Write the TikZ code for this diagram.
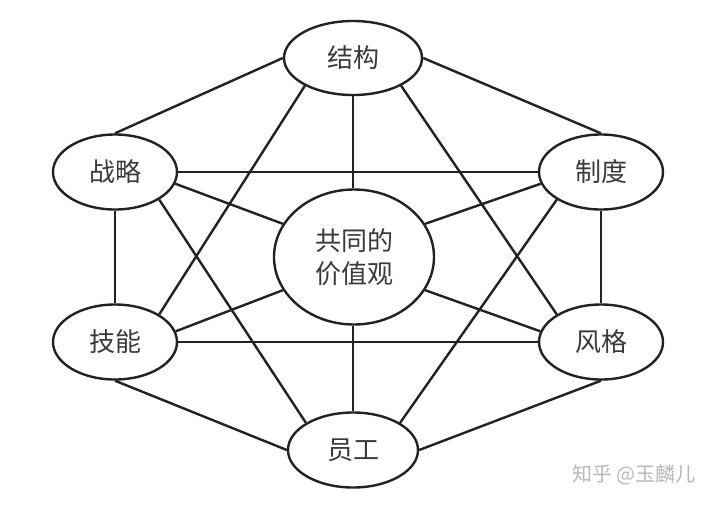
\documentclass[tikz,border=0pt]{standalone}
\usepackage{fontspec}
\newfontfamily\cjk{Noto Sans CJK SC}
\usetikzlibrary{shapes.geometric}
\definecolor{ink}{HTML}{222222}
\definecolor{txt}{HTML}{3A3A3A}
\definecolor{wm}{HTML}{B8B8B8}
\tikzset{
  elem/.style={ellipse, draw=ink, line width=2.4pt, fill=white, inner sep=0pt,
    minimum width=124pt, minimum height=75pt, text=txt,
    font=\cjk\fontsize{26}{33}\selectfont},
  link/.style={draw=ink, line width=2.4pt}
}
\begin{document}
\begin{tikzpicture}[x=1pt,y=-1pt]
\useasboundingbox (0,0) rectangle (720,507);
\fill[white] (0,0) rectangle (720,507);
% nodes
\node[elem, minimum width=138pt, minimum height=74pt] (jg) at (353,58) {结构};
\node[elem] (zl) at (115,172) {战略};
\node[elem] (zd) at (601,172) {制度};
\node[elem] (jn) at (115,342) {技能};
\node[elem] (fg) at (601,342) {风格};
\node[elem, minimum width=130pt] (yg) at (353,450) {员工};
\node[elem, minimum width=160pt, minimum height=135pt, align=center] (gt) at (354,257) {共同的\\价值观};
% hexagon edges
\path[link] (zl.north) -- (jg.west);
\path[link] (jg.east) -- (zd.north);
\path[link] (zd.south) -- (fg.north);
\path[link] (fg.south) -- (yg.east);
\path[link] (yg.west) -- (jn.south);
\path[link] (jn.north) -- (zl.south);
% skip-one diagonals
\path[link] (zl.east) -- (zd.west);
\path[link] (jn.east) -- (fg.west);
\path[link] (jg.210) -- (jn.32);
\path[link] (jg.330) -- (fg.148);
\path[link] (zl.-32) -- (yg.150);
\path[link] (zd.212) -- (yg.30);
% spokes to the centre
\path[link] (jg.south) -- (jg.south |- gt.north);
\path[link] (yg.north) -- (yg.north |- gt.south);
\path[link] (zl.-11) -- (gt.155);
\path[link] (zd.191) -- (gt.25);
\path[link] (jn.10) -- (gt.205);
\path[link] (fg.170) -- (gt.335);
% watermark
\node[text=wm, font=\cjk\fontsize{20}{24}\selectfont, inner sep=0pt] (wmk) at (634,475) {知乎 @玉麟儿};
\end{tikzpicture}
\end{document}
